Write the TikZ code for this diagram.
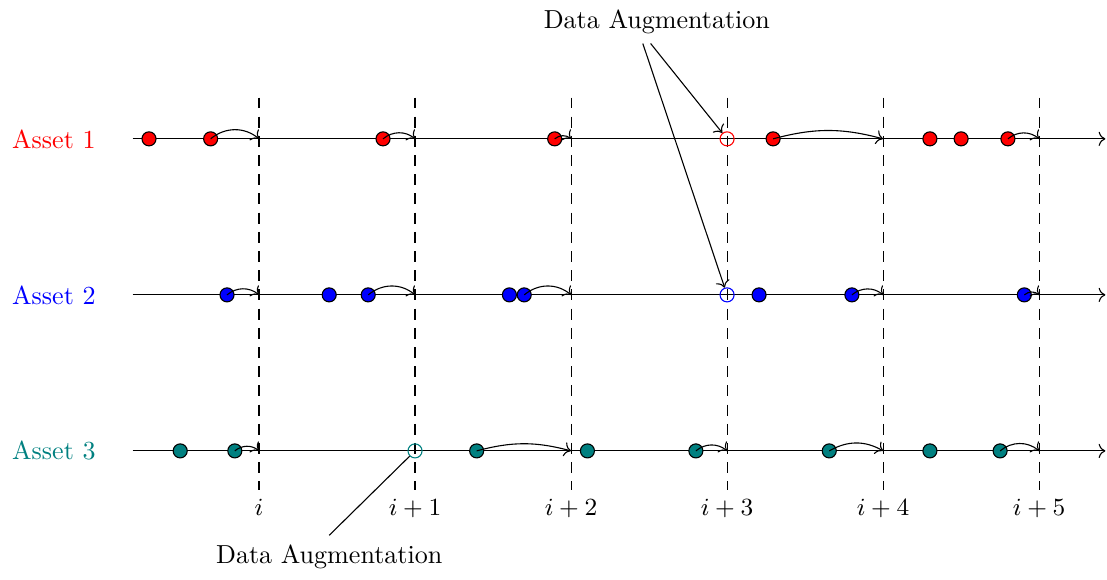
\documentclass[tikz,border=0pt]{standalone}
\usepackage{amsmath}
\usepackage{xcolor}
\usepackage{tikz}
\usetikzlibrary{arrows.meta, positioning, calc}
\definecolor{assetA}{HTML}{FF0000}
\definecolor{assetB}{HTML}{0000FF}
\definecolor{assetC}{HTML}{008080}

\begin{document}
\begin{tikzpicture}[
    txt/.style={font=\fontsize{9.5}{11}\selectfont},
    asset/.style={txt, text=#1},
    dot/.style={circle, draw, fill=#1, minimum size=0.18cm, inner sep=0pt},
    hollow/.style={circle, draw=#1, fill=none, minimum size=0.18cm, inner sep=0pt},
    jump/.style={->, bend left=40},
]
    \useasboundingbox (-3.32, 1.78) rectangle (10.87, -5.65);

    % time axes and ticks
    \foreach \r in {1,2,3} {
        \coordinate (s\r) at (-1.62, {-2*(\r-1)});
        \coordinate (e\r) at (10.85, {-2*(\r-1)});
        \draw[->] (s\r) -- (e\r);
        \foreach \k in {0,...,5}
            \coordinate (a\r t\k) at ({2*\k}, {-2*(\r-1)});
    }
    \foreach \k/\lab in {0/$i$, 1/$i+1$, 2/$i+2$, 3/$i+3$, 4/$i+4$, 5/$i+5$} {
        \coordinate (top\k) at ({2*\k}, 0.53);
        \coordinate (bot\k) at ({2*\k}, -4.5);
        \draw[dashed, dash pattern=on 4pt off 3pt] (top\k) -- (bot\k);
        \node[txt, below=0pt of bot\k] (lab\k) {\lab};
    }

    % asset names
    \node[asset=assetA, left=0.35cm of s1] (n1) {Asset 1};
    \node[asset=assetB, left=0.35cm of s2] (n2) {Asset 2};
    \node[asset=assetC, left=0.35cm of s3] (n3) {Asset 3};

    % Asset 1
    \node[dot=assetA] (r1) at (-1.41, 0) {};
    \node[dot=assetA] (r2) at (-0.62, 0) {};
    \node[dot=assetA] (r3) at (1.59, 0) {};
    \node[dot=assetA] (r4) at (3.79, 0) {};
    \node[hollow=assetA] (h1) at (6, 0) {};
    \node[dot=assetA] (r6) at (6.59, 0) {};
    \node[dot=assetA] (r7) at (8.60, 0) {};
    \node[dot=assetA] (r8) at (9.00, 0) {};
    \node[dot=assetA] (r9) at (9.60, 0) {};
    \draw[jump] (r2.center) to (a1t0);
    \draw[jump] (r3.center) to (a1t1);
    \draw[jump] (r4.center) to (a1t2);
    \draw[jump, bend left=15] (r6.center) to (a1t4);
    \draw[jump] (r9.center) to (a1t5);

    % Asset 2
    \node[dot=assetB] (b1) at (-0.41, -2) {};
    \node[dot=assetB] (b2) at (0.90, -2) {};
    \node[dot=assetB] (b3) at (1.40, -2) {};
    \node[dot=assetB] (b4) at (3.21, -2) {};
    \node[dot=assetB] (b5) at (3.40, -2) {};
    \node[hollow=assetB] (h2) at (6, -2) {};
    \node[dot=assetB] (b7) at (6.41, -2) {};
    \node[dot=assetB] (b8) at (7.60, -2) {};
    \node[dot=assetB] (b9) at (9.81, -2) {};
    \draw[jump] (b1.center) to (a2t0);
    \draw[jump] (b3.center) to (a2t1);
    \draw[jump] (b5.center) to (a2t2);
    \draw[jump] (b8.center) to (a2t4);
    \draw[jump] (b9.center) to (a2t5);

    % Asset 3
    \node[dot=assetC] (g1) at (-1.01, -4) {};
    \node[dot=assetC] (g2) at (-0.31, -4) {};
    \node[hollow=assetC] (h3) at (2, -4) {};
    \node[dot=assetC] (g4) at (2.79, -4) {};
    \node[dot=assetC] (g5) at (4.21, -4) {};
    \node[dot=assetC] (g6) at (5.60, -4) {};
    \node[dot=assetC] (g7) at (7.31, -4) {};
    \node[dot=assetC] (g8) at (8.60, -4) {};
    \node[dot=assetC] (g9) at (9.50, -4) {};
    \draw[jump] (g2.center) to (a3t0);
    \draw[jump, bend left=15] (g4.center) to (a3t2);
    \draw[jump] (g6.center) to (a3t3);
    \draw[jump, bend left=30] (g7.center) to (a3t4);
    \draw[jump] (g9.center) to (a3t5);

    % augmentation notes
    \node[txt] (da1) at (5.10, 1.50) {Data Augmentation};
    \node[txt] (da2) at (0.90, -5.36) {Data Augmentation};
    \draw[->] ([xshift=-1.8mm]da1.south) -- (h2);
    \draw[->] ([xshift=-0.8mm]da1.south) -- (h1);
    \draw (da2.north) -- (h3);
\end{tikzpicture}
\end{document}
